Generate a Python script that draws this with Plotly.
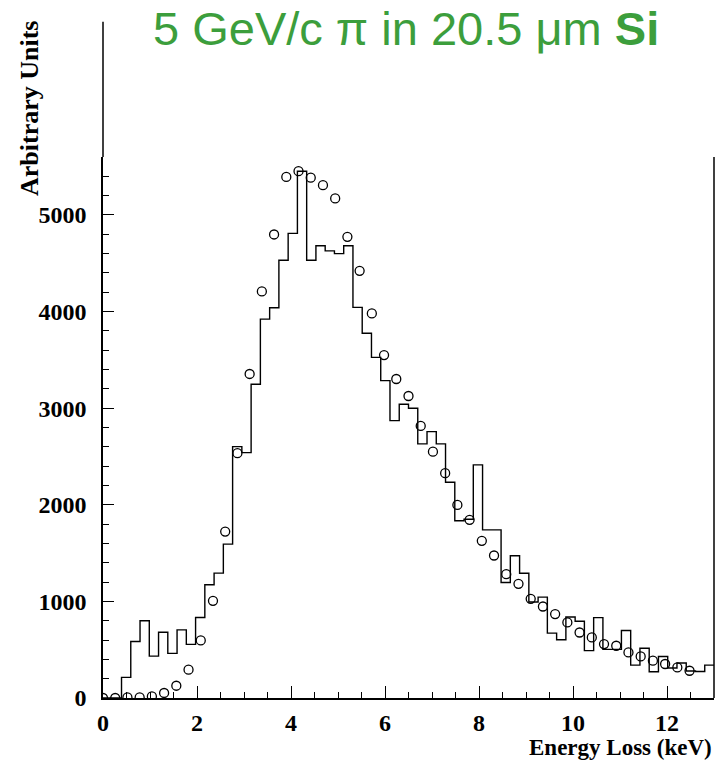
import numpy as np
import plotly.graph_objects as go

# ---- data ----
# histogram: 66 bins from 0 to 13 keV
hist_lo = 0.0
hist_hi = 13.0
hist_counts = [0, 0, 213, 585, 800, 433, 680, 462, 705, 555,
               834, 1172, 1293, 1593, 2602, 2540, 3247, 3922, 4040, 4532,
               4809, 5453, 4532, 4681, 4628, 4600, 4681, 4043, 3775, 3526,
               3285, 2871, 3040, 2999, 2630, 2757, 2630, 2234, 1834, 1850,
               2413, 1740, 1740, 1196, 1472, 1292, 993, 1044, 672, 603,
               838, 795, 490, 832, 503, 503, 699, 340, 515, 272,
               430, 310, 362, 280, 275, 340]

# calculation points (open circles)
pts_x = [0.00, 0.26, 0.52, 0.78, 1.04, 1.30, 1.56, 1.82, 2.08, 2.34,
         2.60, 2.86, 3.12, 3.38, 3.64, 3.90, 4.16, 4.42, 4.68, 4.94,
         5.20, 5.46, 5.72, 5.98, 6.24, 6.50, 6.76, 7.02, 7.28, 7.54,
         7.80, 8.06, 8.32, 8.58, 8.84, 9.10, 9.36, 9.62, 9.88, 10.14,
         10.40, 10.66, 10.92, 11.18, 11.44, 11.70, 11.96, 12.22, 12.48]
pts_y = [0, 0, 6, 6, 17, 52, 127, 293, 596, 1006,
         1723, 2534, 3354, 4209, 4798, 5394, 5453, 5386, 5308, 5171,
         4774, 4422, 3981, 3550, 3302, 3126, 2816, 2550, 2327, 1999,
         1844, 1627, 1475, 1282, 1182, 1027, 947, 869, 782, 678,
         627, 558, 541, 472, 430, 386, 352, 316, 282]

x_ticks = [0, 2, 4, 6, 8, 10, 12]
y_ticks = [0, 1000, 2000, 3000, 4000, 5000]

title_text = "5 GeV/c \u03c0 in 20.5 \u03bcm <b>Si</b>"
x_title = "Energy Loss (keV)"
y_title = "Arbitrary Units"

# ---- build ----
edges = np.linspace(hist_lo, hist_hi, len(hist_counts) + 1)
step_y = list(hist_counts) + [hist_counts[-1]]

serif = "Liberation Serif"

fig = go.Figure()
fig.add_trace(go.Scatter(
    x=edges, y=step_y, mode="lines", line_shape="hv",
    line=dict(color="black", width=1.4), hoverinfo="skip", showlegend=False))
fig.add_trace(go.Scatter(
    x=pts_x, y=pts_y, mode="markers",
    marker=dict(symbol="circle-open", size=9, color="black",
                line=dict(color="black", width=1.3)),
    showlegend=False))

fig.update_layout(
    width=721, height=764,
    margin=dict(l=103, r=7, t=157, b=66),
    paper_bgcolor="white", plot_bgcolor="white",
    xaxis=dict(range=[hist_lo, hist_hi], tickvals=x_ticks,
               ticktext=[str(v) for v in x_ticks],
               ticks="inside", ticklen=12, tickwidth=1.3, tickcolor="black",
               minor=dict(ticks="inside", ticklen=6, dtick=0.5, tick0=0,
                          tickwidth=1.2, tickcolor="black"),
               showline=True, linecolor="black", linewidth=1.5,
               showgrid=False, zeroline=False, ticklabelstandoff=2,
               tickfont=dict(family=serif, size=24, color="black", weight="bold")),
    yaxis=dict(range=[0, 5600], tickvals=y_ticks,
               ticktext=[str(v) for v in y_ticks],
               ticks="inside", ticklen=11, tickwidth=1.3, tickcolor="black",
               minor=dict(ticks="inside", ticklen=6, dtick=200, tick0=0,
                          tickwidth=1.2, tickcolor="black"),
               showline=True, linecolor="black", linewidth=1.5,
               showgrid=False, zeroline=False, ticklabelstandoff=10,
               tickfont=dict(family=serif, size=24, color="black", weight="bold")),
)

# frame pieces: left axis extension above plot, right border
fig.add_shape(type="line", xref="paper", yref="paper", x0=0, x1=0, y0=1, y1=1.25,
              line=dict(color="black", width=1.5))
fig.add_shape(type="line", xref="paper", yref="paper", x0=1, x1=1, y0=0, y1=1,
              line=dict(color="black", width=1.5))

fig.add_annotation(text=title_text, xref="paper", yref="paper",
                   x=0.496, y=1.238, xanchor="center", yanchor="middle",
                   showarrow=False,
                   font=dict(family="Liberation Sans", size=47, color="#3c9e3c"))
fig.add_annotation(text=y_title, xref="paper", yref="paper",
                   x=-0.12, y=1.09, xanchor="center", yanchor="middle",
                   textangle=-90, showarrow=False,
                   font=dict(family=serif, size=26, color="black", weight="bold"))
fig.add_annotation(text=x_title, xref="paper", yref="paper",
                   x=1.0, y=-0.092, xanchor="right", yanchor="middle",
                   showarrow=False,
                   font=dict(family=serif, size=23, color="black", weight="bold"))

fig.write_html("out.html", config={"displayModeBar": False},
               post_script="document.body.style.margin='0';document.body.style.overflow='hidden';")
